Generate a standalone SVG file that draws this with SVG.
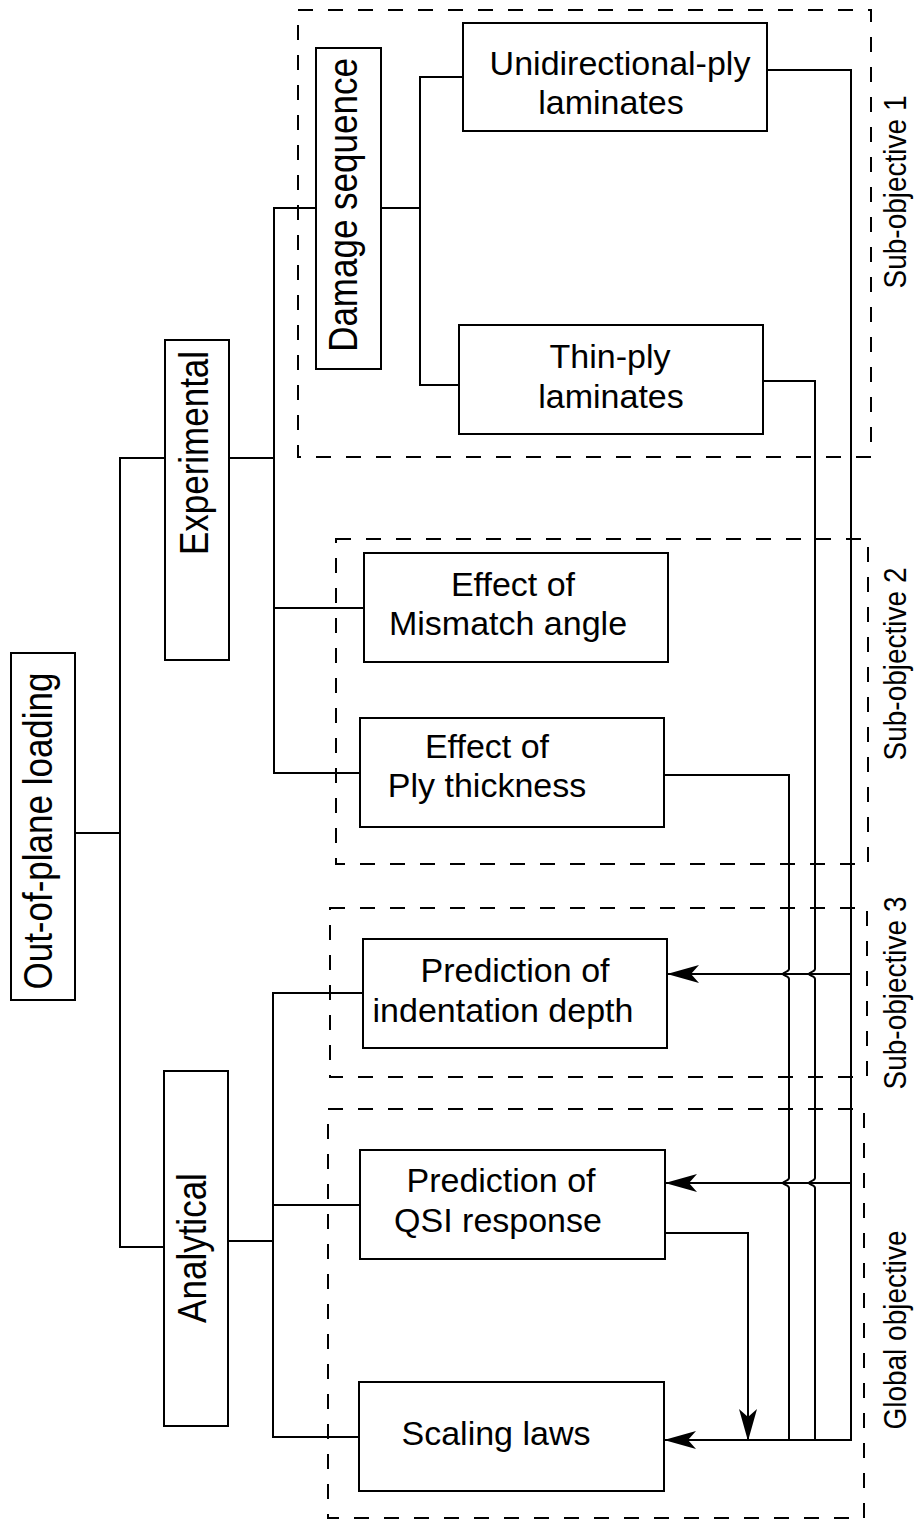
<svg xmlns="http://www.w3.org/2000/svg" width="914" height="1521" viewBox="0 0 914 1521">
  <style>
    .box { fill: #ffffff; stroke: #000000; stroke-width: 2; }
    .grp { fill: none; stroke: #000000; stroke-width: 2; stroke-dasharray: 15 15; }
    .wire { fill: none; stroke: #000000; stroke-width: 2; }
    .t { font-family: "Liberation Sans", Arial, sans-serif; font-size: 34px; fill: #000000; text-anchor: middle; }
    .vt { font-family: "Liberation Sans", Arial, sans-serif; font-size: 35px; fill: #000000; text-anchor: middle; }
    .st { font-family: "Liberation Sans", Arial, sans-serif; font-size: 28px; fill: #000000; text-anchor: middle; }
  </style>
  <defs>
    <marker id="arrow" viewBox="0 0 32 18" refX="32" refY="9" markerWidth="32" markerHeight="18" markerUnits="userSpaceOnUse" orient="auto">
      <path d="M0,0 L32,9 L0,18 L8,9 z" fill="#000000"/>
    </marker>
  </defs>
  <rect width="914" height="1521" fill="#ffffff"/>

  <!-- objective groupings -->
  <g id="groups">
    <rect class="grp" x="298" y="10" width="573" height="447"/>
    <rect class="grp" x="336" y="539" width="532" height="325"/>
    <rect class="grp" x="330" y="908" width="537" height="169"/>
    <rect class="grp" x="328" y="1109" width="536" height="409"/>
    <text class="st" transform="translate(906,192) rotate(-90) scale(1,1.15)">Sub-objective 1</text>
    <text class="st" transform="translate(906,664) rotate(-90) scale(1,1.15)">Sub-objective 2</text>
    <text class="st" transform="translate(906,993) rotate(-90) scale(1,1.15)">Sub-objective 3</text>
    <text class="st" transform="translate(906,1330) rotate(-90) scale(1,1.15)">Global objective</text>
  </g>

  <!-- connectors -->
  <g id="connectors">
    <path class="wire" d="M75,833 H120"/>
    <path class="wire" d="M165,458 H120 V1247 H164"/>
    <path class="wire" d="M229,458 H274"/>
    <path class="wire" d="M316,208 H274 V773 H360"/>
    <path class="wire" d="M274,608 H364"/>
    <path class="wire" d="M381,208 H420"/>
    <path class="wire" d="M463,77 H420 V385 H459"/>
    <path class="wire" d="M228,1241 H273"/>
    <path class="wire" d="M363,993 H273 V1437 H359"/>
    <path class="wire" d="M273,1205 H360"/>
    <!-- feedback lines to the analytical models -->
    <path class="wire" d="M767,70 H851 V1440 H664" marker-end="url(#arrow)"/>
    <path class="wire" d="M851,974 H667" marker-end="url(#arrow)"/>
    <path class="wire" d="M851,1183 H665" marker-end="url(#arrow)"/>
    <path class="wire" d="M763,381 H815 V969 C815,972 809,972 809,974 C809,976 815,976 815,979 V1178 C815,1181 809,1181 809,1183 C809,1185 815,1185 815,1188 V1440"/>
    <path class="wire" d="M664,775 H789 V969 C789,972 783,972 783,974 C783,976 789,976 789,979 V1178 C789,1181 783,1181 783,1183 C783,1185 789,1185 789,1188 V1440"/>
    <path class="wire" d="M665,1233 H748 V1441" marker-end="url(#arrow)"/>
  </g>

  <g id="root">
    <rect class="box" x="11" y="653" width="64" height="347"/>
    <text class="vt" transform="translate(52,831) rotate(-90) scale(1,1.15)">Out-of-plane loading</text>
  </g>
  <g id="experimental">
    <rect class="box" x="165" y="340" width="64" height="320"/>
    <text class="vt" transform="translate(208,453) rotate(-90) scale(1,1.15)">Experimental</text>
  </g>
  <g id="analytical">
    <rect class="box" x="164" y="1071" width="64" height="355"/>
    <text class="vt" transform="translate(206,1248) rotate(-90) scale(1,1.15)">Analytical</text>
  </g>
  <g id="damage-sequence">
    <rect class="box" x="316" y="48" width="65" height="321"/>
    <text class="vt" transform="translate(357,205) rotate(-90) scale(1,1.15)">Damage sequence</text>
  </g>
  <g id="unidirectional">
    <rect class="box" x="463" y="23" width="304" height="108"/>
    <text class="t" x="620" y="75">Unidirectional-ply</text>
    <text class="t" x="611" y="114">laminates</text>
  </g>
  <g id="thin-ply">
    <rect class="box" x="459" y="325" width="304" height="109"/>
    <text class="t" x="610" y="368">Thin-ply</text>
    <text class="t" x="611" y="408">laminates</text>
  </g>
  <g id="mismatch">
    <rect class="box" x="364" y="553" width="304" height="109"/>
    <text class="t" x="513" y="596">Effect of</text>
    <text class="t" x="508" y="635">Mismatch angle</text>
  </g>
  <g id="ply-thickness">
    <rect class="box" x="360" y="718" width="304" height="109"/>
    <text class="t" x="487" y="758">Effect of</text>
    <text class="t" x="487" y="797">Ply thickness</text>
  </g>
  <g id="indentation">
    <rect class="box" x="363" y="939" width="304" height="109"/>
    <text class="t" x="515" y="982">Prediction of</text>
    <text class="t" x="503" y="1022">indentation depth</text>
  </g>
  <g id="qsi">
    <rect class="box" x="360" y="1150" width="305" height="109"/>
    <text class="t" x="501" y="1192">Prediction of</text>
    <text class="t" x="498" y="1232">QSI response</text>
  </g>
  <g id="scaling">
    <rect class="box" x="359" y="1382" width="305" height="109"/>
    <text class="t" x="496" y="1445">Scaling laws</text>
  </g>
</svg>
